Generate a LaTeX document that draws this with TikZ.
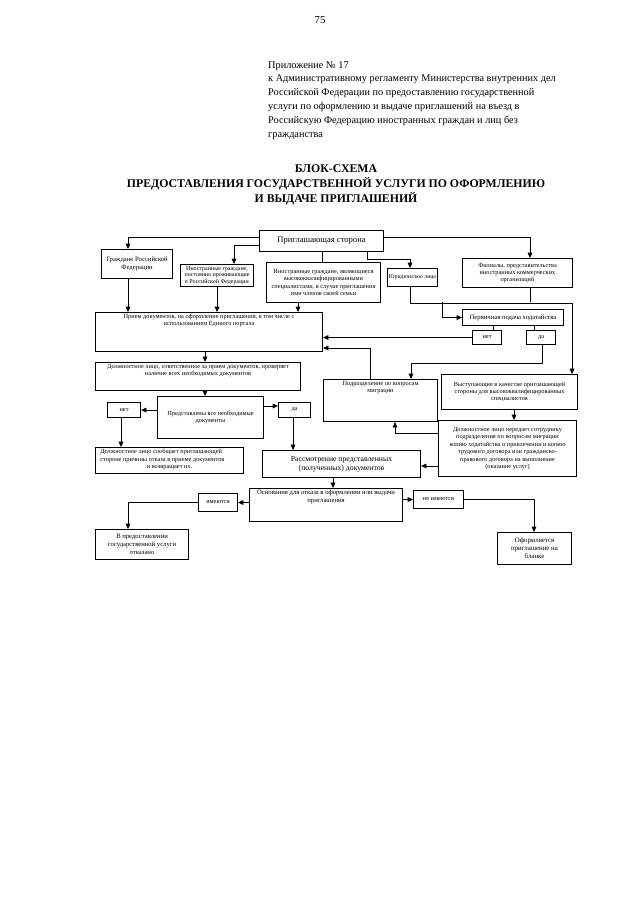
\documentclass[tikz,border=0pt]{standalone}
\usepackage{fontspec}
\setmainfont{Liberation Serif}
\usetikzlibrary{positioning,arrows.meta}
\newlength\px
\setlength\px{0.328mm}

\begin{document}
\begin{tikzpicture}[
    x=0.328mm, y=-0.328mm,
    frame/.style={rectangle, draw, line width=1pt, inner sep=1.5pt, font=\fontsize{5.9}{6.9}\selectfont},
    box/.style 2 args={frame, align=center, anchor=north west, minimum width=#1*\px, minimum height=#2*\px},
    topbox/.style 2 args={frame, anchor=north west,
        execute at begin node={\begin{minipage}[c][\dimexpr#2\px-3pt\relax][t]{\dimexpr#1\px-3pt\relax}\centering},
        execute at end node={\end{minipage}}},
    arrow/.style={-{Triangle[length=5pt,width=4.4pt]}, line width=0.8pt},
    link/.style={line width=0.8pt},
]
\useasboundingbox (0,0) rectangle (640,905);
\node[font=\fontsize{10}{12}\selectfont] (pagenum) at (320,20) {75};
\node[anchor=north west, align=left, inner sep=0pt, font=\fontsize{9.6}{13}\selectfont] (appendix) at (268,61)
    {Приложение № 17\\
     к Административному регламенту Министерства внутренних дел\\
     Российской Федерации по предоставлению государственной\\
     услуги по оформлению и выдаче приглашений на въезд в\\
     Российскую Федерацию иностранных граждан и лиц без\\
     гражданства};
\node[align=center, font=\bfseries\fontsize{11}{14}\selectfont] (title) at (336,185)
    {БЛОК-СХЕМА\\
     ПРЕДОСТАВЛЕНИЯ ГОСУДАРСТВЕННОЙ УСЛУГИ ПО ОФОРМЛЕНИЮ\\
     И ВЫДАЧЕ ПРИГЛАШЕНИЙ};
% upper row
\node[box={124}{21}, font=\fontsize{8}{9.5}\selectfont] (inviter) at (259,230) {Приглашающая сторона};
\node[box={71}{29}, font=\fontsize{6.2}{7.4}\selectfont] (citizens) at (101,249) {Граждане Российской\\Федерации};
\node[box={73}{22}, inner sep=0.5pt, font=\fontsize{5.6}{6.1}\selectfont] (residents) at (180,264) {Иностранные граждане,\\постоянно проживающие\\в Российской Федерации};
\node[box={114}{40}] (hqsfamily) at (266,262) {Иностранные граждане, являющиеся\\высококвалифицированными\\специалистами, в случае приглашения\\ими членов своей семьи};
\node[box={50}{18}, inner sep=0.5pt, font=\fontsize{5.4}{6.4}\selectfont] (legal) at (387,268) {Юридическое лицо};
\node[box={110}{29}] (branches) at (462,258) {Филиалы, представительства\\иностранных коммерческих\\организаций};
\node[box={101}{16}, font=\fontsize{6.2}{7.4}\selectfont] (petition) at (462,309) {Первичная подача ходатайства};
\node[box={29}{14}] (no1) at (472,330) {нет};
\node[box={29}{14}] (yes1) at (526,330) {да};
% middle
\node[topbox={227}{39}] (reception) at (95,312) {Прием документов, на оформление приглашения, в том числе с\\использованием Единого портала};
\node[topbox={205}{28}] (officer) at (95,362) {Должностное лицо, ответственное за прием документов, проверяет\\наличие всех необходимых документов};
\node[topbox={114}{42}] (migration) at (323,379) {Подразделение по вопросам\\миграции};
\node[box={136}{35}] (hqsinviter) at (441,374) {Выступающие в качестве приглашающей\\стороны для высококвалифицированных\\специалистов};
\node[box={106}{42}] (alldocs) at (157,396) {Представлены все необходимые\\документы};
\node[box={33}{15}] (no2) at (107,402) {нет};
\node[box={32}{15}] (yes2) at (278,402) {да};
\node[topbox={148}{26}] (refusal) at (95,447) {\raggedright\leftskip=3pt Должностное лицо сообщает приглашающей\\стороне причины отказа в приеме документов\\и возвращает их.};
\node[box={138}{56}] (transfer) at (438,420) {Должностное лицо передает сотруднику\\подразделения по вопросам миграции\\копию ходатайства о привлечении и копию\\трудового договора или гражданско-\\правового договора на выполнение\\(оказание услуг)};
\node[box={158}{27}, font=\fontsize{7.2}{8.8}\selectfont] (review) at (262,450) {Рассмотрение представленных\\(полученных) документов};
% lower
\node[topbox={153}{33}, font=\fontsize{6.2}{7.2}\selectfont] (grounds) at (249,488) {Основания для отказа в оформлении или выдачи\\приглашения};
\node[box={39}{18}] (exist) at (198,493) {имеются};
\node[box={50}{18}] (notexist) at (413,490) {не имеются};
\node[box={93}{30}, font=\fontsize{6.2}{7.2}\selectfont] (denied) at (95,529) {В предоставлении\\государственной услуги\\отказано};
\node[box={74}{32}, font=\fontsize{6.4}{7.4}\selectfont] (issued) at (497,532) {Оформляется\\приглашение на\\бланке};
\coordinate (fork1) at (442,302);
\coordinate (fork2) at (530,302);
% connectors
\draw[arrow] (inviter.west |- 0,237) -| (citizens.north -| 128,0);
\draw[arrow] (inviter.west |- 0,245) -| (residents.north -| 234,0);
\draw[link] (inviter.south -| 322,0) -- (hqsfamily.north -| 322,0);
\draw[arrow] (inviter.south -| 367,0) -- ++(0,7) -| (legal.north -| 410,0);
\draw[arrow] (inviter.east |- 0,237) -| (branches.north -| 530,0);
\draw[arrow] (citizens.south -| 128,0) -- (reception.north -| 128,0);
\draw[arrow] (residents.south) -- (reception.north -| residents.south);
\draw[arrow] (hqsfamily.south -| 298,0) -- (reception.north -| 298,0);
\draw[arrow] (legal.south -| 410,0) -- ++(0,16) -| (hqsinviter.north -| 572,0);
\draw[link] (branches.south -| fork2) -- (fork2);
\draw[arrow] (fork1) |- (petition.west);
\draw[link] (petition.south -| 493,0) -- (no1.north -| 493,0);
\draw[link] (petition.south -| 534,0) -- (yes1.north -| 534,0);
\draw[arrow] (no1.west) -- (reception.east |- no1.west);
\draw[arrow] (yes1.south -| 542,0) -- ++(0,18) -| (migration.north -| 411,0);
\draw[arrow] (migration.north -| 370,0) |- (reception.east |- 0,348);
\draw[arrow] (reception.south -| 205,0) -- (officer.north -| 205,0);
\draw[arrow] (officer.south -| 205,0) -- (alldocs.north -| 205,0);
\draw[arrow] (alldocs.west |- no2.east) -- (no2.east);
\draw[arrow] (alldocs.east |- 0,406) -- (yes2.west |- 0,406);
\draw[arrow] (no2.south -| 121,0) -- (refusal.north -| 121,0);
\draw[arrow] (yes2.south -| 293,0) -- (review.north -| 293,0);
\draw[arrow] (hqsinviter.south -| 514,0) -- (transfer.north -| 514,0);
\draw[arrow] (transfer.west |- 0,433) -| (migration.south -| 395,0);
\draw[arrow] (transfer.west |- 0,466) -- (review.east |- 0,466);
\draw[arrow] (review.south -| 333,0) -- (grounds.north -| 333,0);
\draw[arrow] (grounds.west |- exist.east) -- (exist.east);
\draw[arrow] (exist.west) -| (denied.north -| 128,0);
\draw[arrow] (grounds.east |- notexist.west) -- (notexist.west);
\draw[arrow] (notexist.east) -| (issued.north -| 534,0);
\end{tikzpicture}
\end{document}
